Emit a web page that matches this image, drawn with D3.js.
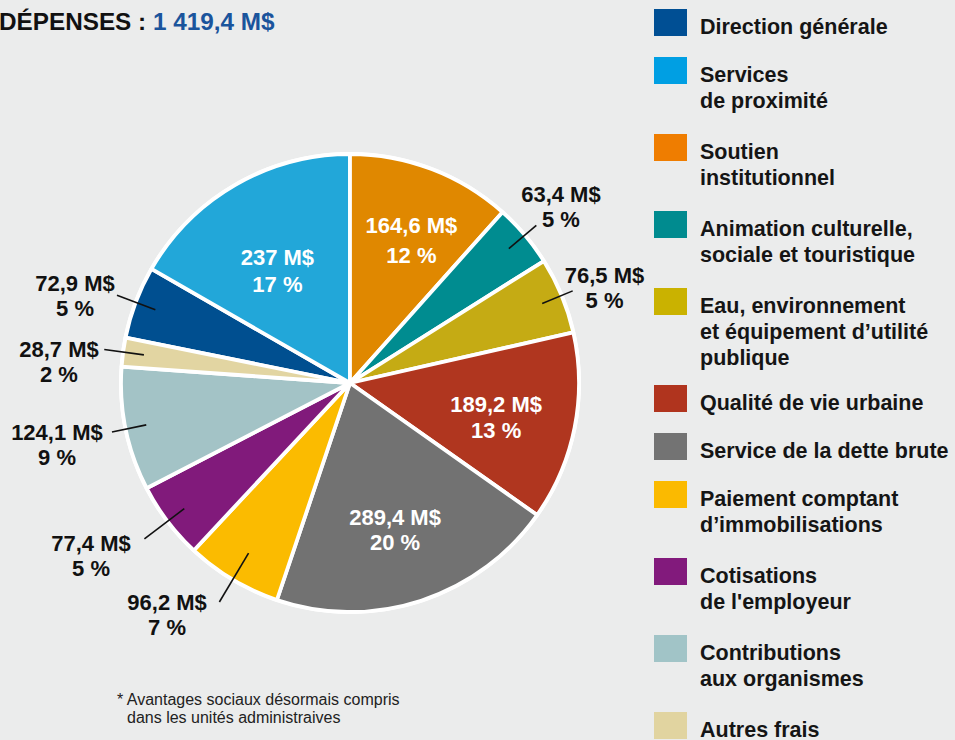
<!DOCTYPE html>
<html>
<head>
<meta charset="utf-8">
<script src="https://cdn.jsdelivr.net/npm/d3@7"></script>
<style>
  html, body { margin: 0; padding: 0; background: #ebecec; }
  svg { display: block; font-family: "Liberation Sans", Arial, Helvetica, sans-serif; }
</style>
</head>
<body>
<svg id="chart" width="955" height="740"></svg>
<script>
// ---------- DATA ----------
const titleText = "DÉPENSES : ";
const totalText = "1 419,4 M$";
const categories = [
  "Direction générale", "Services de proximité", "Soutien institutionnel",
  "Animation culturelle, sociale et touristique",
  "Eau, environnement et équipement d’utilité publique",
  "Qualité de vie urbaine", "Service de la dette brute",
  "Paiement comptant d’immobilisations", "Cotisations de l'employeur",
  "Contributions aux organismes", "Autres frais"
];
const legendLines = [
  ["Direction générale"], ["Services", "de proximité"], ["Soutien", "institutionnel"],
  ["Animation culturelle,", "sociale et touristique"],
  ["Eau, environnement", "et équipement d’utilité", "publique"],
  ["Qualité de vie urbaine"], ["Service de la dette brute"],
  ["Paiement comptant", "d’immobilisations"], ["Cotisations", "de l'employeur"],
  ["Contributions", "aux organismes"], ["Autres frais"]
];
const values = [72.9, 237, 164.6, 63.4, 76.5, 189.2, 289.4, 96.2, 77.4, 124.1, 28.7];
const valueLabels = ["72,9 M$", "237 M$", "164,6 M$", "63,4 M$", "76,5 M$", "189,2 M$",
                     "289,4 M$", "96,2 M$", "77,4 M$", "124,1 M$", "28,7 M$"];
const percentLabels = ["5 %", "17 %", "12 %", "5 %", "5 %", "13 %", "20 %", "7 %", "5 %", "9 %", "2 %"];
const footnoteLines = ["* Avantages sociaux désormais compris", "dans les unités administraives"];

// ---------- STYLE / LAYOUT ----------
const pieColors = ["#004f90", "#22a7d9", "#e08800", "#008c90", "#c5ab14", "#b0361f",
                   "#727272", "#fbbb00", "#811a7b", "#a3c3c6", "#e2d5a2"];
const legendColors = ["#004f94", "#009fe3", "#ef7d00", "#008b8f", "#cab200", "#b0341e",
                      "#737373", "#fbba00", "#821a7c", "#a1c4c7", "#e1d4a0"];
const firstSliceIndex = 2; // pie starts at 12 o'clock with "Soutien institutionnel"
const cx = 350, cy = 383, R = 229;
// label placement relative to arc geometry: inside [dx, dy of first baseline from centroid, line gap], outside [rIn, rOut, dx, dy]
const insideLayout = { 1: [2.5, 12, 26.7], 2: [8, -9.5, 29.7], 5: [-1, 0, 26], 6: [-1.5, -0.5, 25] };
const outsideLayout = {
  0: [208, 249, -42, -4], 3: [208, 244, 24.6, -23.8], 4: [208, 241, 31.8, -7.9],
  7: [198, 255, -52.3, 8], 8: [208, 258, -53.4, 12.2], 9: [208, 243, -55, 8.1], 10: [208, 248, -45.3, 7.5]
};

const svg = d3.select("#chart");

// Title
const title = svg.append("text").attr("x", -1).attr("y", 30)
  .attr("font-size", 24.3).attr("font-weight", "bold").attr("fill", "#111");
title.append("tspan").text(titleText);
title.append("tspan").attr("fill", "#1a549c").text(totalText);

// Pie
const total = d3.sum(values);
const offset = -2 * Math.PI * d3.sum(values.slice(0, firstSliceIndex)) / total;
const pie = d3.pie().sort(null).value(d => d).startAngle(offset).endAngle(offset + 2 * Math.PI);
const arcs = pie(values);
const arc = d3.arc().innerRadius(0).outerRadius(R);
const g = svg.append("g").attr("transform", `translate(${cx},${cy})`);

g.append("circle").attr("r", R + 2).attr("fill", "#fff");
g.selectAll("path.slice").data(arcs).join("path")
  .attr("class", "slice")
  .attr("d", arc)
  .attr("fill", (d, i) => pieColors[i])
  .attr("stroke", "#fff")
  .attr("stroke-width", 3.8)
  .attr("stroke-linejoin", "round");

const mid = d => (d.startAngle + d.endAngle) / 2;
const polar = (r, a) => [r * Math.sin(a), -r * Math.cos(a)];

// Inside labels
arcs.forEach((d, i) => {
  if (!insideLayout[i]) return;
  const [dx, dy, lh] = insideLayout[i];
  const [x, y] = polar(150, mid(d));
  const t = g.append("text").attr("text-anchor", "middle").attr("fill", "#fff")
    .attr("font-weight", "bold").attr("font-size", 22);
  t.append("tspan").attr("x", x + dx).attr("y", y + dy).text(valueLabels[i]);
  t.append("tspan").attr("x", x + dx).attr("y", y + dy + lh).text(percentLabels[i]);
});

// Outside labels with leader lines
arcs.forEach((d, i) => {
  if (!outsideLayout[i]) return;
  const [rIn, rOut, dx, dy] = outsideLayout[i];
  const a = mid(d);
  const p0 = polar(rIn, a), p1 = polar(rOut, a);
  g.append("line").attr("x1", p0[0]).attr("y1", p0[1]).attr("x2", p1[0]).attr("y2", p1[1])
    .attr("stroke", "#111").attr("stroke-width", 1.6);
  const t = g.append("text").attr("text-anchor", "middle").attr("fill", "#111")
    .attr("font-weight", "bold").attr("font-size", 22);
  t.append("tspan").attr("x", p1[0] + dx).attr("y", p1[1] + dy).text(valueLabels[i]);
  t.append("tspan").attr("x", p1[0] + dx).attr("y", p1[1] + dy + 25).text(percentLabels[i]);
});

// Legend
const gapFor = n => (n === 1 ? 48 : n === 2 ? 77 : 97);
let legendY = 9;
const legend = svg.append("g");
categories.forEach((c, i) => {
  const item = legend.append("g").attr("transform", `translate(654,${legendY})`);
  item.append("rect").attr("width", 33).attr("height", 27).attr("fill", legendColors[i]);
  const t = item.append("text").attr("font-size", 21.5).attr("font-weight", "bold").attr("fill", "#151515");
  legendLines[i].forEach((ln, k) => {
    t.append("tspan").attr("x", 46).attr("y", 25 + k * 26).text(ln);
  });
  legendY += gapFor(legendLines[i].length);
});

// Footnote
const fn = svg.append("text").attr("font-size", 16).attr("fill", "#222");
fn.append("tspan").attr("x", 117).attr("y", 705).text(footnoteLines[0]);
fn.append("tspan").attr("x", 127).attr("y", 723).text(footnoteLines[1]);
</script>
</body>
</html>
